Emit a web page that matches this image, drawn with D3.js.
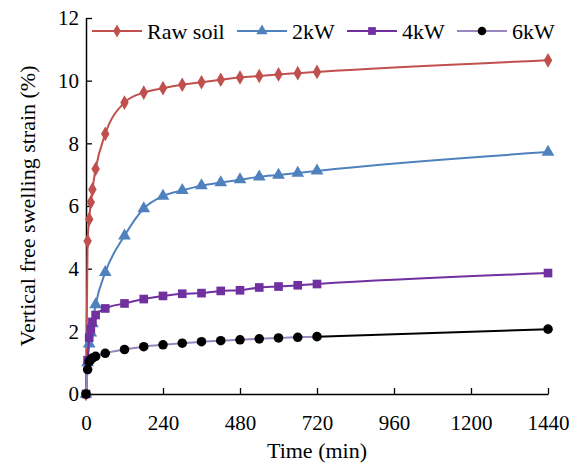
<!DOCTYPE html>
<html>
<head>
<meta charset="utf-8">
<script src="https://cdn.jsdelivr.net/npm/d3@7"></script>
<style>
  html, body { margin: 0; padding: 0; background: #fff; }
  svg { display: block; }
  text { font-family: "Liberation Serif", "Times New Roman", serif; fill: #000; }
</style>
</head>
<body>
<svg id="chart" width="586" height="468"></svg>
<script>
// Sampling times (min)
const times = [0, 5, 10, 15, 20, 30, 60, 120, 180, 240, 300, 360, 420, 480, 540, 600, 660, 720, 1440];

// Vertical free swelling strain (%) for each treatment
const rawSoil = [0, 4.88, 5.58, 6.12, 6.53, 7.18, 8.30, 9.30, 9.62, 9.76, 9.87, 9.95, 10.03, 10.10, 10.15, 10.20, 10.24, 10.28, 10.65];
const kw2     = [0, 1.00, 1.60, 1.95, 2.25, 2.85, 3.88, 5.05, 5.92, 6.32, 6.50, 6.65, 6.75, 6.84, 6.93, 6.99, 7.05, 7.12, 7.72];
const kw4     = [0, 1.08, 1.80, 2.07, 2.30, 2.52, 2.73, 2.89, 3.03, 3.13, 3.20, 3.22, 3.29, 3.31, 3.40, 3.43, 3.47, 3.51, 3.86];
const kw6     = [0, 0.78, 1.03, 1.10, 1.15, 1.20, 1.30, 1.42, 1.51, 1.57, 1.62, 1.67, 1.70, 1.73, 1.76, 1.79, 1.81, 1.83, 2.07];

const seriesNames = ["Raw soil", "2kW", "4kW", "6kW"];
const xTicks = [0, 240, 480, 720, 960, 1200, 1440];
const yTicks = [0, 2, 4, 6, 8, 10, 12];

const series = [
  { name: seriesNames[0], values: rawSoil, line: "#C0504D", fill: "#C0504D", marker: "diamond" },
  { name: seriesNames[1], values: kw2,     line: "#4F81BD", fill: "#4F81BD", marker: "triangle" },
  { name: seriesNames[2], values: kw4,     line: "#7030A0", fill: "#7030A0", marker: "square" },
  { name: seriesNames[3], values: kw6,     line: "#9A86BE", fill: "#000000", marker: "circle", lastLine: "#000000" }
];

const svg = d3.select("#chart");
const plotLeft = 86, plotRight = 548, plotTop = 18, plotBottom = 394;

const x = d3.scaleLinear().domain([0, 1440]).range([plotLeft, plotRight]);
const y = d3.scaleLinear().domain([0, 12]).range([plotBottom, plotTop]);

// Axes with inward ticks
const xAxis = d3.axisBottom(x).tickValues(xTicks).tickFormat(d3.format("d"))
  .tickSizeInner(-6).tickSizeOuter(0).tickPadding(21);
const yAxis = d3.axisLeft(y).tickValues(yTicks).tickFormat(d3.format("d"))
  .tickSizeInner(-6).tickSizeOuter(0).tickPadding(7);

const gx = svg.append("g").attr("transform", `translate(0,${plotBottom})`).call(xAxis);
const gy = svg.append("g").attr("transform", `translate(${plotLeft},0)`).call(yAxis);
[gx, gy].forEach(g => {
  g.attr("font-family", null).attr("font-size", null);
  g.select(".domain").attr("stroke", "#000").attr("stroke-width", 1.5);
  g.selectAll(".tick line").attr("stroke", "#000").attr("stroke-width", 1.3);
  g.selectAll(".tick text").style("font-size", "21px").attr("fill", "#000");
});

// Axis titles
svg.append("text").attr("x", (plotLeft + plotRight) / 2).attr("y", 458)
  .attr("text-anchor", "middle").style("font-size", "22px").text("Time (min)");
svg.append("text").attr("transform", `translate(35,${(plotTop + plotBottom) / 2}) rotate(-90)`)
  .attr("text-anchor", "middle").style("font-size", "22px").text("Vertical free swelling strain (%)");

const symbolFor = {
  diamond: d3.symbolDiamond,
  triangle: d3.symbolTriangle,
  square: d3.symbolSquare,
  circle: d3.symbolCircle
};
const symbolSize = { diamond: 62, triangle: 70, square: 75, circle: 72 };

const line = d3.line().x(d => x(d[0])).y(d => y(d[1])).curve(d3.curveMonotoneX);

series.forEach(s => {
  const pts = times.map((t, i) => [t, s.values[i]]);
  const g = svg.append("g");
  if (s.lastLine) {
    g.append("path").attr("d", line(pts.slice(0, -1))).attr("fill", "none")
      .attr("stroke", s.line).attr("stroke-width", 2);
    g.append("path").attr("d", line(pts.slice(-2))).attr("fill", "none")
      .attr("stroke", s.lastLine).attr("stroke-width", 2);
  } else {
    g.append("path").attr("d", line(pts)).attr("fill", "none")
      .attr("stroke", s.line).attr("stroke-width", 2);
  }
  g.selectAll("path.mk").data(pts).join("path").attr("class", "mk")
    .attr("transform", d => `translate(${x(d[0])},${y(d[1])})`)
    .attr("d", d3.symbol().type(symbolFor[s.marker]).size(symbolSize[s.marker]))
    .attr("fill", s.fill);
});

// Legend
const legendX = [92, 237, 347, 457];
const legendY = 31;
series.forEach((s, i) => {
  const g = svg.append("g").attr("transform", `translate(${legendX[i]},${legendY})`);
  g.append("line").attr("x1", 0).attr("x2", 50).attr("y1", 0).attr("y2", 0)
    .attr("stroke", s.line).attr("stroke-width", 2);
  g.append("path").attr("transform", "translate(25,0)")
    .attr("d", d3.symbol().type(symbolFor[s.marker]).size(symbolSize[s.marker] * 0.8))
    .attr("fill", s.fill);
  g.append("text").attr("x", 55).attr("y", 7.5).style("font-size", "22px").text(s.name);
});
</script>
</body>
</html>
